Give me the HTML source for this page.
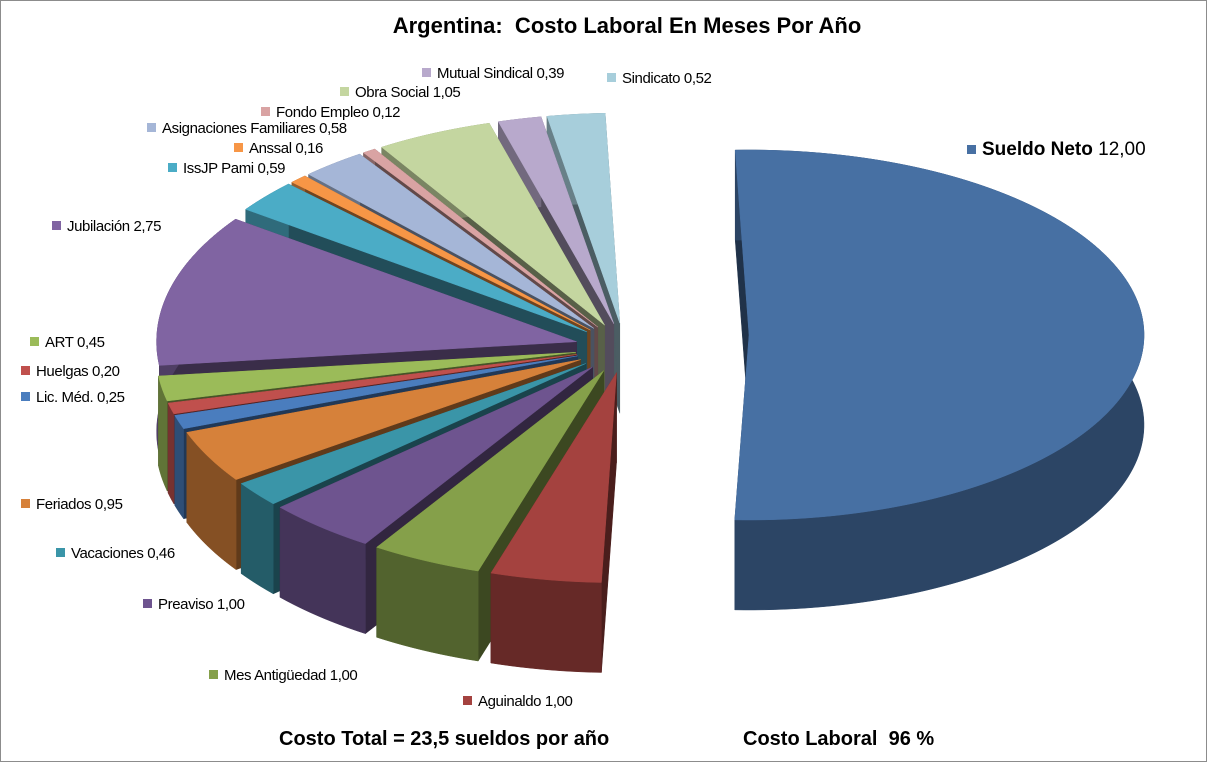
<!DOCTYPE html>
<html><head><meta charset="utf-8">
<style>
body{margin:0;background:#fff;}
#wrap{position:relative;width:1207px;height:762px;overflow:hidden;background:#fff;font-family:"Liberation Sans",sans-serif;}
#frame{position:absolute;left:0;top:0;width:1205px;height:760px;border:1px solid #8c8c8c;}
.t{position:absolute;font-size:15px;color:#000;white-space:nowrap;letter-spacing:-0.4px;}
.sq{display:inline-block;width:9px;height:9px;margin-right:6px;vertical-align:1px;}
</style></head><body>
<div id="wrap">
<div id="frame"></div>
<div class="t" style="left:0;width:1254px;text-align:center;top:13px;font-size:22px;font-weight:bold;letter-spacing:0">Argentina:&nbsp; Costo Laboral En Meses Por Año</div>
<svg id="pie" width="1207" height="762" style="position:absolute;left:0;top:0"></svg>
<div id="labels"></div>
<div class="t" style="left:279px;top:728px;font-size:20px;font-weight:bold;letter-spacing:0">Costo Total = 23,5 sueldos por año</div>
<div class="t" style="left:743px;top:728px;font-size:20px;font-weight:bold;letter-spacing:0">Costo Laboral&nbsp; 96 %</div>
</div>
<script>
const categories=["Sueldo Neto","Aguinaldo","Mes Antigüedad","Preaviso","Vacaciones","Feriados","Lic. Méd.","Huelgas","ART","Jubilación","IssJP Pami","Anssal","Asignaciones Familiares","Fondo Empleo","Obra Social","Mutual Sindical","Sindicato"];
const values=[12.00,1.00,1.00,1.00,0.46,0.95,0.25,0.20,0.45,2.75,0.59,0.16,0.58,0.12,1.05,0.39,0.52];
const valueLabels=["12,00","1,00","1,00","1,00","0,46","0,95","0,25","0,20","0,45","2,75","0,59","0,16","0,58","0,12","1,05","0,39","0,52"];
const colors=["#4770A3","#A4423F","#85A04A","#6E548F","#3A95A8","#D6813A","#4A7DBE","#C0504D","#9BBB59","#8064A2","#4BACC6","#F79646","#A5B6D7","#D9A3A3","#C4D6A0","#B8A9CC","#A7CEDB"];
const labelPos=[[967,151],[463,703],[209,677],[143,606],[56,555],[21,506],[21,399],[21,373],[30,344],[52,228],[168,170],[234,150],[147,130],[261,114],[340,94],[422,75],[607,80]];
const depth=90, rot=-2*Math.PI/180;
const geoMain={cx:749,cy:335,rx:395,ry:185,e:0};
const geoRest={cx:625,cy:348,rx:420,ry:210,e:50};
const svg=document.getElementById('pie');
const NS='http://www.w3.org/2000/svg';
function shade(hex,f){const n=parseInt(hex.slice(1),16);const r=Math.round(((n>>16)&255)*f),g=Math.round(((n>>8)&255)*f),b=Math.round((n&255)*f);return `rgb(${r},${g},${b})`;}
const total=values.reduce((a,b)=>a+b,0);
let acc=0;const slices=[];
values.forEach((v,i)=>{const a0=acc/total*2*Math.PI+rot;acc+=v;const a1=acc/total*2*Math.PI+rot;slices.push({i,a0,a1,mid:(a0+a1)/2});});
function mk(d,fill,name){const p=document.createElementNS(NS,'path');p.setAttribute('d',d);p.setAttribute('fill',fill);p.setAttribute('stroke',fill);p.setAttribute('stroke-width','0.5');


svg.appendChild(p);}
const order=slices.slice().sort((a,b)=>(-Math.cos(a.mid))-(-Math.cos(b.mid)));
order.forEach(s=>{
  const g=s.i===0?geoMain:geoRest;
  const ox=g.cx+g.e*Math.sin(s.mid), oy=g.cy-g.e*Math.cos(s.mid)*(g.ry/g.rx);
  const pt=(a,dz)=>[ox+g.rx*Math.sin(a),oy-g.ry*Math.cos(a)+dz];
  const n=Math.max(4,Math.ceil((s.a1-s.a0)*40));
  const top=[],bot=[];
  for(let k=0;k<=n;k++){const a=s.a0+(s.a1-s.a0)*k/n;top.push(pt(a,0));bot.push(pt(a,depth));}
  const c=colors[s.i];
  const slug=categories[s.i].toLowerCase().normalize('NFD').replace(/[\u0300-\u036f]/g,'').replace(/[^a-z]+/g,'-').replace(/-$/,'');
  [s.a0,s.a1].forEach(a=>{const p=pt(a,0);mk(`M${ox},${oy}L${p[0]},${p[1]}L${p[0]},${p[1]+depth}L${ox},${oy+depth}Z`,shade(c,0.45),'slice-side-'+slug);});
  let d='M'+top.map(p=>p.join(',')).join('L')+'L'+bot.reverse().map(p=>p.join(',')).join('L')+'Z';
  mk(d,shade(c,0.62),'slice-wall-'+slug);
  d=`M${ox},${oy}L`+top.map(p=>p.join(',')).join('L')+'Z';
  mk(d,c,'slice-'+slug);
});
const lab=document.getElementById('labels');
categories.forEach((c,i)=>{
  const el=document.createElement('div');
  el.className='t';
  
  
  el.style.left=labelPos[i][0]+'px';
  el.style.top=(labelPos[i][1]-10)+'px';
  if(i===0){el.style.fontSize='19px';el.style.top=(labelPos[i][1]-12)+'px';el.style.letterSpacing='0';}
  el.innerHTML=`<span class="sq" style="background:${colors[i]}"></span>`+(i===0?`<b>${c}</b> ${valueLabels[i]}`:`${c} ${valueLabels[i]}`);
  lab.appendChild(el);
});
</script>
</body></html>
